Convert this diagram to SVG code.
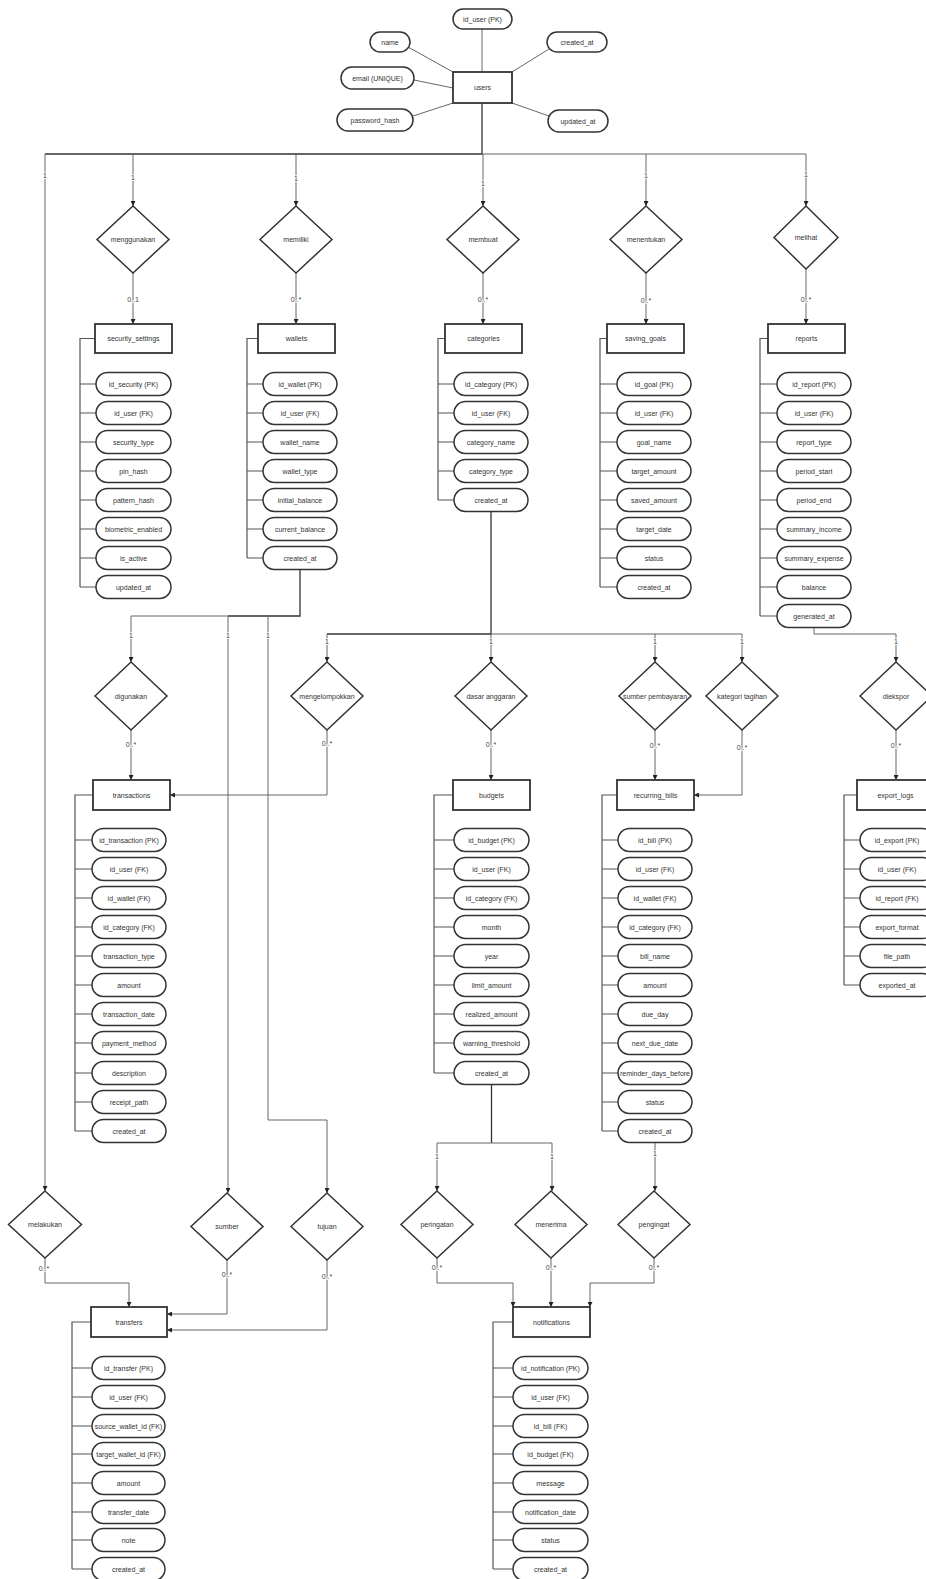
<svg xmlns="http://www.w3.org/2000/svg" width="926" height="1579" viewBox="0 0 926 1579">
  <defs>
    <style>
      text { font-family: "Liberation Sans", Arial, sans-serif; font-size: 7px; fill: #333; text-anchor: middle; dominant-baseline: central; }
      .ent rect { fill: #fff; stroke: #333; stroke-width: 1.8; }
      .attr rect { fill: #fff; stroke: #333; stroke-width: 1.5; }
      .rel polygon { fill: #fff; stroke: #333; stroke-width: 1.5; }
      #connectors path { fill: none; stroke: #666; stroke-width: 1; }
      #connectors .dk { stroke: #333; stroke-width: 1.3; }
      #connectors .arr { marker-end: url(#arrow); }
      #connectors .br { stroke: #555; stroke-width: 1.2; }
      .card { font-size: 7px; fill: #444; stroke: #fff; stroke-width: 1.4; paint-order: stroke fill; }
    </style>
    <marker id="arrow" viewBox="0 0 6 6" refX="6" refY="3" markerWidth="5" markerHeight="5" orient="auto" markerUnits="userSpaceOnUse">
      <path d="M0,0 L6,3 L0,6 z" fill="#222"/>
    </marker>
  </defs>
  <rect width="926" height="1579" fill="#fff"/>

  <!-- connectors -->
  <g id="connectors">
    <!-- users attributes -->
    <path d="M482,29 V72"/>
    <path d="M408,47 L453,72"/>
    <path d="M414,80 L453,88"/>
    <path d="M413,116 L453,103"/>
    <path d="M549,49 L512,72"/>
    <path d="M549,116 L512,103"/>

    <!-- users trunk -->
    <path class="dk" d="M482,103 V154 H45"/>
    <path d="M482,154 H806"/>
    <path class="arr" d="M45,154 V1191"/>
    <path class="arr" d="M133,154 V206"/>
    <path class="arr" d="M296,154 V206"/>
    <path class="arr" d="M483,154 V206"/>
    <path class="arr" d="M646,154 V206"/>
    <path class="arr" d="M806,154 V206"/>

    <!-- relations to first entity row -->
    <path class="arr" d="M133,273 V324"/>
    <path class="arr" d="M296,273 V324"/>
    <path class="arr" d="M483,273 V324"/>
    <path class="arr" d="M646,273 V324"/>
    <path class="arr" d="M806,269 V324"/>

    <!-- wallets branch -->
    <path class="dk" d="M300,569.5 V616 H228"/>
    <path d="M228,616 H131"/>
    <path class="arr" d="M131,616 V662"/>
    <path class="arr" d="M228,616 V1193"/>
    <path class="arr" d="M268,616 V1120 H327 V1193"/>

    <!-- categories branch -->
    <path class="dk" d="M491,511.5 V634 H327"/>
    <path d="M491,634 H742"/>
    <path class="arr" d="M327,634 V662"/>
    <path class="arr" d="M491,634 V662"/>
    <path class="arr" d="M655,634 V662"/>
    <path class="arr" d="M742,634 V662"/>

    <!-- reports branch -->
    <path class="arr" d="M814,627.5 V634 H896 V662"/>

    <!-- relations to second entity row -->
    <path class="arr" d="M131,730 V780"/>
    <path class="arr" d="M327,730 V795 H170"/>
    <path class="arr" d="M491,730 V780"/>
    <path class="arr" d="M655,730 V780"/>
    <path class="arr" d="M742,730 V795 H694"/>
    <path class="arr" d="M896,730 V780"/>

    <!-- budgets / recurring_bills branches -->
    <path class="dk" d="M491.5,1084.5 V1143"/>
    <path d="M437,1143 H552"/>
    <path class="arr" d="M437,1143 V1191"/>
    <path class="arr" d="M552,1143 V1191"/>
    <path class="arr" d="M655,1142.5 V1191"/>

    <!-- relations to transfers -->
    <path class="arr" d="M45,1258 V1283 H129 V1307"/>
    <path class="arr" d="M227,1260 V1314 H167"/>
    <path class="arr" d="M327,1260 V1330 H167"/>

    <!-- relations to notifications -->
    <path class="arr" d="M437,1258 V1283 H513 V1307"/>
    <path class="arr" d="M551,1258 V1307"/>
    <path class="arr" d="M654,1258 V1283 H590 V1307"/>

    <!-- attribute brackets -->
    <path class="br" d="M95,338.5 H80 V587 M80,384 H96 M80,413 H96 M80,442 H96 M80,471 H96 M80,500 H96 M80,529 H96 M80,558 H96 M80,587 H96"/>
    <path class="br" d="M258,338.5 H247 V558 M247,384 H263 M247,413 H263 M247,442 H263 M247,471 H263 M247,500 H263 M247,529 H263 M247,558 H263"/>
    <path class="br" d="M445,338.5 H438 V500 M438,384 H454 M438,413 H454 M438,442 H454 M438,471 H454 M438,500 H454"/>
    <path class="br" d="M607,338.5 H600 V587 M600,384 H617 M600,413 H617 M600,442 H617 M600,471 H617 M600,500 H617 M600,529 H617 M600,558 H617 M600,587 H617"/>
    <path class="br" d="M768,338.5 H760 V616 M760,384 H777 M760,413 H777 M760,442 H777 M760,471 H777 M760,500 H777 M760,529 H777 M760,558 H777 M760,587 H777 M760,616 H777"/>
    <path class="br" d="M93,795 H75 V1131 M75,840 H92 M75,869 H92 M75,898 H92 M75,927 H92 M75,956 H92 M75,985 H92 M75,1014 H92 M75,1043 H92 M75,1073 H92 M75,1102 H92 M75,1131 H92"/>
    <path class="br" d="M453,795 H434 V1073 M434,840 H454 M434,869 H454 M434,898 H454 M434,927 H454 M434,956 H454 M434,985 H454 M434,1014 H454 M434,1043 H454 M434,1073 H454"/>
    <path class="br" d="M617,795 H602 V1131 M602,840 H618 M602,869 H618 M602,898 H618 M602,927 H618 M602,956 H618 M602,985 H618 M602,1014 H618 M602,1043 H618 M602,1073 H618 M602,1102 H618 M602,1131 H618"/>
    <path class="br" d="M857,795 H844 V985 M844,840 H860 M844,869 H860 M844,898 H860 M844,927 H860 M844,956 H860 M844,985 H860"/>
    <path class="br" d="M91,1322 H72 V1569 M72,1368 H92 M72,1397 H92 M72,1426 H92 M72,1454 H92 M72,1483 H92 M72,1512 H92 M72,1540 H92 M72,1569 H92"/>
    <path class="br" d="M513,1322 H493 V1569 M493,1368 H513 M493,1397 H513 M493,1426 H513 M493,1454 H513 M493,1483 H513 M493,1512 H513 M493,1540 H513 M493,1569 H513"/>
  </g>

  <!-- cardinalities -->
  <g id="cardinalities">
    <text class="card" x="45" y="175">1</text>
    <text class="card" x="133" y="177">1</text>
    <text class="card" x="296" y="178">1</text>
    <text class="card" x="483" y="183">1</text>
    <text class="card" x="646" y="175">1</text>
    <text class="card" x="806" y="174">1</text>
    <text class="card" x="133" y="299">0..1</text>
    <text class="card" x="296" y="299">0..*</text>
    <text class="card" x="483" y="299">0..*</text>
    <text class="card" x="646" y="300">0..*</text>
    <text class="card" x="806" y="299">0..*</text>
    <text class="card" x="131" y="635">1</text>
    <text class="card" x="228" y="635">1</text>
    <text class="card" x="268" y="635">1</text>
    <text class="card" x="327" y="641">1</text>
    <text class="card" x="491" y="641">1</text>
    <text class="card" x="655" y="641">1</text>
    <text class="card" x="742" y="641">1</text>
    <text class="card" x="896" y="641">1</text>
    <text class="card" x="131" y="744">0..*</text>
    <text class="card" x="327" y="743">0..*</text>
    <text class="card" x="491" y="744">0..*</text>
    <text class="card" x="655" y="745">0..*</text>
    <text class="card" x="742" y="747">0..*</text>
    <text class="card" x="896" y="745">0..*</text>
    <text class="card" x="437" y="1156">1</text>
    <text class="card" x="552" y="1156">1</text>
    <text class="card" x="655" y="1153">1</text>
    <text class="card" x="44" y="1268">0..*</text>
    <text class="card" x="227" y="1274">0..*</text>
    <text class="card" x="327" y="1276">0..*</text>
    <text class="card" x="437" y="1267">0..*</text>
    <text class="card" x="551" y="1267">0..*</text>
    <text class="card" x="654" y="1267">0..*</text>
  </g>

  <!-- relationships -->
  <g id="rel-menggunakan" class="rel"><polygon points="133,206 169,239.5 133,273 97,239.5"/><text x="133" y="239.5">menggunakan</text></g>
  <g id="rel-memiliki" class="rel"><polygon points="296,206 332,239.5 296,273 260,239.5"/><text x="296" y="239.5">memiliki</text></g>
  <g id="rel-membuat" class="rel"><polygon points="483,206 519,239.5 483,273 447,239.5"/><text x="483" y="239.5">membuat</text></g>
  <g id="rel-menentukan" class="rel"><polygon points="646,206 682,239.5 646,273 610,239.5"/><text x="646" y="239.5">menentukan</text></g>
  <g id="rel-melihat" class="rel"><polygon points="806,206 838,237.5 806,269 774,237.5"/><text x="806" y="237.5">melihat</text></g>

  <g id="rel-digunakan" class="rel"><polygon points="131,662 167,696 131,730 95,696"/><text x="131" y="696">digunakan</text></g>
  <g id="rel-mengelompokkan" class="rel"><polygon points="327,662 363,696 327,730 291,696"/><text x="327" y="696">mengelompokkan</text></g>
  <g id="rel-dasar-anggaran" class="rel"><polygon points="491,662 527,696 491,730 455,696"/><text x="491" y="696">dasar anggaran</text></g>
  <g id="rel-sumber-pembayaran" class="rel"><polygon points="655,662 691,696 655,730 619,696"/><text x="655" y="696">sumber pembayaran</text></g>
  <g id="rel-kategori-tagihan" class="rel"><polygon points="742,662 778,696 742,730 706,696"/><text x="742" y="696">kategori tagihan</text></g>
  <g id="rel-diekspor" class="rel"><polygon points="896,662 932,696 896,730 860,696"/><text x="896" y="696">diekspor</text></g>

  <g id="rel-melakukan" class="rel"><polygon points="45,1191 81.5,1224.5 45,1258 8.5,1224.5"/><text x="45" y="1224.5">melakukan</text></g>
  <g id="rel-sumber" class="rel"><polygon points="227,1193 263,1226.5 227,1260 191,1226.5"/><text x="227" y="1226.5">sumber</text></g>
  <g id="rel-tujuan" class="rel"><polygon points="327,1193 363,1226.5 327,1260 291,1226.5"/><text x="327" y="1226.5">tujuan</text></g>
  <g id="rel-peringatan" class="rel"><polygon points="437,1191 473,1224.5 437,1258 401,1224.5"/><text x="437" y="1224.5">peringatan</text></g>
  <g id="rel-menerima" class="rel"><polygon points="551,1191 587,1224.5 551,1258 515,1224.5"/><text x="551" y="1224.5">menerima</text></g>
  <g id="rel-pengingat" class="rel"><polygon points="654,1191 690,1224.5 654,1258 618,1224.5"/><text x="654" y="1224.5">pengingat</text></g>

  <!-- users -->
  <g id="users">
    <g class="ent"><rect x="453" y="72" width="59" height="31"/><text x="482.5" y="87.5">users</text></g>
    <g class="attr">
      <rect x="453" y="9" width="59" height="20" rx="10"/><text x="482.5" y="19">id_user (PK)</text>
      <rect x="370" y="32" width="40" height="20" rx="10"/><text x="390" y="42">name</text>
      <rect x="341" y="67" width="73" height="22" rx="11"/><text x="377.5" y="78">email (UNIQUE)</text>
      <rect x="337" y="109" width="76" height="22" rx="11"/><text x="375" y="120">password_hash</text>
      <rect x="547" y="32" width="60" height="20" rx="10"/><text x="577" y="42">created_at</text>
      <rect x="548" y="110" width="60" height="22" rx="11"/><text x="578" y="121">updated_at</text>
    </g>
  </g>

  <!-- security_settings -->
  <g id="security_settings">
    <g class="ent"><rect x="95" y="324" width="77" height="29"/><text x="133.5" y="338.5">security_settings</text></g>
    <g class="attr">
      <rect x="96" y="372.5" width="75" height="23" rx="11.5"/><text x="133.5" y="384">id_security (PK)</text>
      <rect x="96" y="401.5" width="75" height="23" rx="11.5"/><text x="133.5" y="413">id_user (FK)</text>
      <rect x="96" y="430.5" width="75" height="23" rx="11.5"/><text x="133.5" y="442">security_type</text>
      <rect x="96" y="459.5" width="75" height="23" rx="11.5"/><text x="133.5" y="471">pin_hash</text>
      <rect x="96" y="488.5" width="75" height="23" rx="11.5"/><text x="133.5" y="500">pattern_hash</text>
      <rect x="96" y="517.5" width="75" height="23" rx="11.5"/><text x="133.5" y="529">biometric_enabled</text>
      <rect x="96" y="546.5" width="75" height="23" rx="11.5"/><text x="133.5" y="558">is_active</text>
      <rect x="96" y="575.5" width="75" height="23" rx="11.5"/><text x="133.5" y="587">updated_at</text>
    </g>
  </g>

  <!-- wallets -->
  <g id="wallets">
    <g class="ent"><rect x="258" y="324" width="77" height="29"/><text x="296.5" y="338.5">wallets</text></g>
    <g class="attr">
      <rect x="263" y="372.5" width="74" height="23" rx="11.5"/><text x="300" y="384">id_wallet (PK)</text>
      <rect x="263" y="401.5" width="74" height="23" rx="11.5"/><text x="300" y="413">id_user (FK)</text>
      <rect x="263" y="430.5" width="74" height="23" rx="11.5"/><text x="300" y="442">wallet_name</text>
      <rect x="263" y="459.5" width="74" height="23" rx="11.5"/><text x="300" y="471">wallet_type</text>
      <rect x="263" y="488.5" width="74" height="23" rx="11.5"/><text x="300" y="500">initial_balance</text>
      <rect x="263" y="517.5" width="74" height="23" rx="11.5"/><text x="300" y="529">current_balance</text>
      <rect x="263" y="546.5" width="74" height="23" rx="11.5"/><text x="300" y="558">created_at</text>
    </g>
  </g>

  <!-- categories -->
  <g id="categories">
    <g class="ent"><rect x="445" y="324" width="77" height="29"/><text x="483.5" y="338.5">categories</text></g>
    <g class="attr">
      <rect x="454" y="372.5" width="74" height="23" rx="11.5"/><text x="491" y="384">id_category (PK)</text>
      <rect x="454" y="401.5" width="74" height="23" rx="11.5"/><text x="491" y="413">id_user (FK)</text>
      <rect x="454" y="430.5" width="74" height="23" rx="11.5"/><text x="491" y="442">category_name</text>
      <rect x="454" y="459.5" width="74" height="23" rx="11.5"/><text x="491" y="471">category_type</text>
      <rect x="454" y="488.5" width="74" height="23" rx="11.5"/><text x="491" y="500">created_at</text>
    </g>
  </g>

  <!-- saving_goals -->
  <g id="saving_goals">
    <g class="ent"><rect x="607" y="324" width="77" height="29"/><text x="645.5" y="338.5">saving_goals</text></g>
    <g class="attr">
      <rect x="617" y="372.5" width="74" height="23" rx="11.5"/><text x="654" y="384">id_goal (PK)</text>
      <rect x="617" y="401.5" width="74" height="23" rx="11.5"/><text x="654" y="413">id_user (FK)</text>
      <rect x="617" y="430.5" width="74" height="23" rx="11.5"/><text x="654" y="442">goal_name</text>
      <rect x="617" y="459.5" width="74" height="23" rx="11.5"/><text x="654" y="471">target_amount</text>
      <rect x="617" y="488.5" width="74" height="23" rx="11.5"/><text x="654" y="500">saved_amount</text>
      <rect x="617" y="517.5" width="74" height="23" rx="11.5"/><text x="654" y="529">target_date</text>
      <rect x="617" y="546.5" width="74" height="23" rx="11.5"/><text x="654" y="558">status</text>
      <rect x="617" y="575.5" width="74" height="23" rx="11.5"/><text x="654" y="587">created_at</text>
    </g>
  </g>

  <!-- reports -->
  <g id="reports">
    <g class="ent"><rect x="768" y="324" width="77" height="29"/><text x="806.5" y="338.5">reports</text></g>
    <g class="attr">
      <rect x="777" y="372.5" width="74" height="23" rx="11.5"/><text x="814" y="384">id_report (PK)</text>
      <rect x="777" y="401.5" width="74" height="23" rx="11.5"/><text x="814" y="413">id_user (FK)</text>
      <rect x="777" y="430.5" width="74" height="23" rx="11.5"/><text x="814" y="442">report_type</text>
      <rect x="777" y="459.5" width="74" height="23" rx="11.5"/><text x="814" y="471">period_start</text>
      <rect x="777" y="488.5" width="74" height="23" rx="11.5"/><text x="814" y="500">period_end</text>
      <rect x="777" y="517.5" width="74" height="23" rx="11.5"/><text x="814" y="529">summary_income</text>
      <rect x="777" y="546.5" width="74" height="23" rx="11.5"/><text x="814" y="558">summary_expense</text>
      <rect x="777" y="575.5" width="74" height="23" rx="11.5"/><text x="814" y="587">balance</text>
      <rect x="777" y="604.5" width="74" height="23" rx="11.5"/><text x="814" y="616">generated_at</text>
    </g>
  </g>

  <!-- transactions -->
  <g id="transactions">
    <g class="ent"><rect x="93" y="780" width="77" height="30"/><text x="131.5" y="795">transactions</text></g>
    <g class="attr">
      <rect x="92" y="828.5" width="74" height="23" rx="11.5"/><text x="129" y="840">id_transaction (PK)</text>
      <rect x="92" y="857.5" width="74" height="23" rx="11.5"/><text x="129" y="869">id_user (FK)</text>
      <rect x="92" y="886.5" width="74" height="23" rx="11.5"/><text x="129" y="898">id_wallet (FK)</text>
      <rect x="92" y="915.5" width="74" height="23" rx="11.5"/><text x="129" y="927">id_category (FK)</text>
      <rect x="92" y="944.5" width="74" height="23" rx="11.5"/><text x="129" y="956">transaction_type</text>
      <rect x="92" y="973.5" width="74" height="23" rx="11.5"/><text x="129" y="985">amount</text>
      <rect x="92" y="1002.5" width="74" height="23" rx="11.5"/><text x="129" y="1014">transaction_date</text>
      <rect x="92" y="1031.5" width="74" height="23" rx="11.5"/><text x="129" y="1043">payment_method</text>
      <rect x="92" y="1061.5" width="74" height="23" rx="11.5"/><text x="129" y="1073">description</text>
      <rect x="92" y="1090.5" width="74" height="23" rx="11.5"/><text x="129" y="1102">receipt_path</text>
      <rect x="92" y="1119.5" width="74" height="23" rx="11.5"/><text x="129" y="1131">created_at</text>
    </g>
  </g>

  <!-- budgets -->
  <g id="budgets">
    <g class="ent"><rect x="453" y="780" width="77" height="30"/><text x="491.5" y="795">budgets</text></g>
    <g class="attr">
      <rect x="454" y="828.5" width="75" height="23" rx="11.5"/><text x="491.5" y="840">id_budget (PK)</text>
      <rect x="454" y="857.5" width="75" height="23" rx="11.5"/><text x="491.5" y="869">id_user (FK)</text>
      <rect x="454" y="886.5" width="75" height="23" rx="11.5"/><text x="491.5" y="898">id_category (FK)</text>
      <rect x="454" y="915.5" width="75" height="23" rx="11.5"/><text x="491.5" y="927">month</text>
      <rect x="454" y="944.5" width="75" height="23" rx="11.5"/><text x="491.5" y="956">year</text>
      <rect x="454" y="973.5" width="75" height="23" rx="11.5"/><text x="491.5" y="985">limit_amount</text>
      <rect x="454" y="1002.5" width="75" height="23" rx="11.5"/><text x="491.5" y="1014">realized_amount</text>
      <rect x="454" y="1031.5" width="75" height="23" rx="11.5"/><text x="491.5" y="1043">warning_threshold</text>
      <rect x="454" y="1061.5" width="75" height="23" rx="11.5"/><text x="491.5" y="1073">created_at</text>
    </g>
  </g>

  <!-- recurring_bills -->
  <g id="recurring_bills">
    <g class="ent"><rect x="617" y="780" width="77" height="30"/><text x="655.5" y="795">recurring_bills</text></g>
    <g class="attr">
      <rect x="618" y="828.5" width="74" height="23" rx="11.5"/><text x="655" y="840">id_bill (PK)</text>
      <rect x="618" y="857.5" width="74" height="23" rx="11.5"/><text x="655" y="869">id_user (FK)</text>
      <rect x="618" y="886.5" width="74" height="23" rx="11.5"/><text x="655" y="898">id_wallet (FK)</text>
      <rect x="618" y="915.5" width="74" height="23" rx="11.5"/><text x="655" y="927">id_category (FK)</text>
      <rect x="618" y="944.5" width="74" height="23" rx="11.5"/><text x="655" y="956">bill_name</text>
      <rect x="618" y="973.5" width="74" height="23" rx="11.5"/><text x="655" y="985">amount</text>
      <rect x="618" y="1002.5" width="74" height="23" rx="11.5"/><text x="655" y="1014">due_day</text>
      <rect x="618" y="1031.5" width="74" height="23" rx="11.5"/><text x="655" y="1043">next_due_date</text>
      <rect x="618" y="1061.5" width="74" height="23" rx="11.5"/><text x="655" y="1073">reminder_days_before</text>
      <rect x="618" y="1090.5" width="74" height="23" rx="11.5"/><text x="655" y="1102">status</text>
      <rect x="618" y="1119.5" width="74" height="23" rx="11.5"/><text x="655" y="1131">created_at</text>
    </g>
  </g>

  <!-- export_logs -->
  <g id="export_logs">
    <g class="ent"><rect x="857" y="780" width="77" height="30"/><text x="895.5" y="795">export_logs</text></g>
    <g class="attr">
      <rect x="860" y="828.5" width="74" height="23" rx="11.5"/><text x="897" y="840">id_export (PK)</text>
      <rect x="860" y="857.5" width="74" height="23" rx="11.5"/><text x="897" y="869">id_user (FK)</text>
      <rect x="860" y="886.5" width="74" height="23" rx="11.5"/><text x="897" y="898">id_report (FK)</text>
      <rect x="860" y="915.5" width="74" height="23" rx="11.5"/><text x="897" y="927">export_format</text>
      <rect x="860" y="944.5" width="74" height="23" rx="11.5"/><text x="897" y="956">file_path</text>
      <rect x="860" y="973.5" width="74" height="23" rx="11.5"/><text x="897" y="985">exported_at</text>
    </g>
  </g>

  <!-- transfers -->
  <g id="transfers">
    <g class="ent"><rect x="91" y="1307" width="76" height="30"/><text x="129" y="1322">transfers</text></g>
    <g class="attr">
      <rect x="92" y="1356.5" width="73" height="23" rx="11.5"/><text x="128.5" y="1368">id_transfer (PK)</text>
      <rect x="92" y="1385.5" width="73" height="23" rx="11.5"/><text x="128.5" y="1397">id_user (FK)</text>
      <rect x="92" y="1414.5" width="73" height="23" rx="11.5"/><text x="128.5" y="1426">source_wallet_id (FK)</text>
      <rect x="92" y="1442.5" width="73" height="23" rx="11.5"/><text x="128.5" y="1454">target_wallet_id (FK)</text>
      <rect x="92" y="1471.5" width="73" height="23" rx="11.5"/><text x="128.5" y="1483">amount</text>
      <rect x="92" y="1500.5" width="73" height="23" rx="11.5"/><text x="128.5" y="1512">transfer_date</text>
      <rect x="92" y="1528.5" width="73" height="23" rx="11.5"/><text x="128.5" y="1540">note</text>
      <rect x="92" y="1557.5" width="73" height="23" rx="11.5"/><text x="128.5" y="1569">created_at</text>
    </g>
  </g>

  <!-- notifications -->
  <g id="notifications">
    <g class="ent"><rect x="513" y="1307" width="77" height="30"/><text x="551.5" y="1322">notifications</text></g>
    <g class="attr">
      <rect x="513" y="1356.5" width="75" height="23" rx="11.5"/><text x="550.5" y="1368">id_notification (PK)</text>
      <rect x="513" y="1385.5" width="75" height="23" rx="11.5"/><text x="550.5" y="1397">id_user (FK)</text>
      <rect x="513" y="1414.5" width="75" height="23" rx="11.5"/><text x="550.5" y="1426">id_bill (FK)</text>
      <rect x="513" y="1442.5" width="75" height="23" rx="11.5"/><text x="550.5" y="1454">id_budget (FK)</text>
      <rect x="513" y="1471.5" width="75" height="23" rx="11.5"/><text x="550.5" y="1483">message</text>
      <rect x="513" y="1500.5" width="75" height="23" rx="11.5"/><text x="550.5" y="1512">notification_date</text>
      <rect x="513" y="1528.5" width="75" height="23" rx="11.5"/><text x="550.5" y="1540">status</text>
      <rect x="513" y="1557.5" width="75" height="23" rx="11.5"/><text x="550.5" y="1569">created_at</text>
    </g>
  </g>
</svg>
